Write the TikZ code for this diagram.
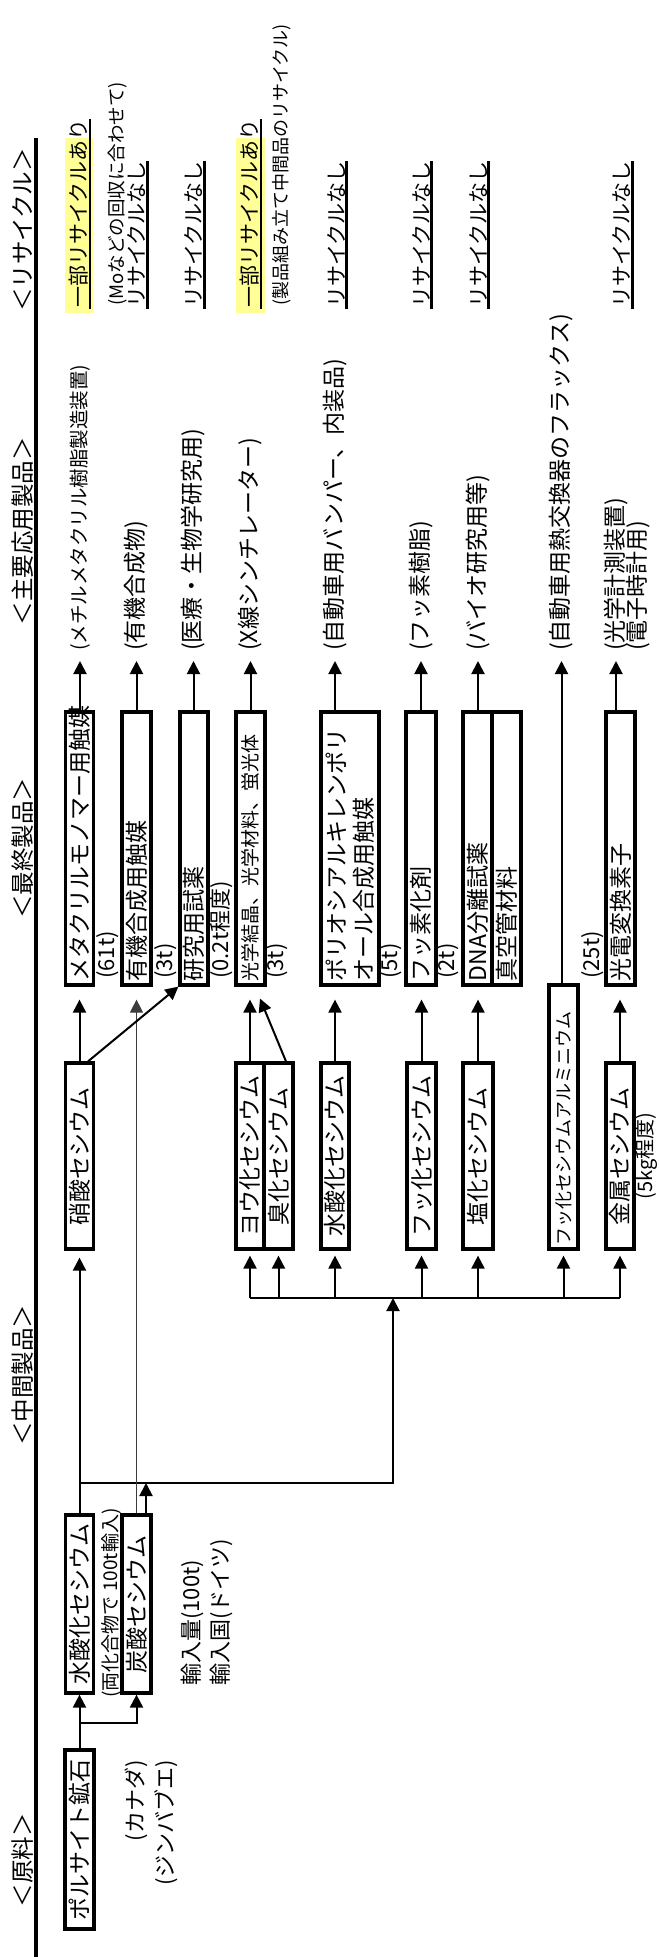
\documentclass[tikz,border=0pt]{standalone}
\usepackage{fontspec}
\setmainfont{Noto Sans CJK JP}
\usepackage{tikz}
\usetikzlibrary{arrows.meta,positioning,calc}
\definecolor{markyellow}{RGB}{255,255,150}
\definecolor{thingray}{RGB}{60,60,60}
\tikzset{
  cbox/.style  ={rectangle, draw, line width=3.2pt, rotate=90, inner sep=0pt,
                 minimum width=186pt, minimum height=28pt, font=\fontsize{23}{25}\selectfont},
  fbox/.style  ={rectangle, draw, line width=3.2pt, rotate=90, inner xsep=4pt, inner ysep=0pt,
                 text width=265pt, align=left, minimum height=28pt, font=\fontsize{23}{27}\selectfont},
  hdr/.style   ={rotate=90, inner sep=0pt, font=\fontsize{23.5}{25}\selectfont},
  lbl/.style   ={rotate=90, inner sep=1pt, font=\fontsize{22}{24}\selectfont},
  app/.style   ={rotate=90, anchor=west, inner sep=1pt, font=\fontsize{23}{25}\selectfont},
  rec/.style   ={rotate=90, anchor=west, inner sep=1pt, font=\fontsize{21}{23}\selectfont},
  note/.style  ={rotate=90, anchor=west, inner sep=1pt, font=\fontsize{18.5}{20}\selectfont},
  flow/.style  ={-{Triangle[length=13pt,width=13pt]}, line width=2pt},
  link/.style  ={line width=2pt},
  uline/.style ={line width=2.6pt}
}
\begin{document}
\begin{tikzpicture}[x=1pt, y=1pt]
\useasboundingbox (0,0) rectangle (659,-1957);
% Column headers
\foreach \y/\name in {1860/原料, 1375/中間製品, 848/最終製品, 531/主要応用製品, 230/リサイクル}{
  \node[hdr] (hd-\y) at (23,-\y) {＜\name＞};
}
\draw[line width=3.2pt] (36,-138) -- (36,-1957);

% Raw material
\node[cbox, minimum width=179pt, minimum height=29pt] (pollucite) at (79.5,-1839.5) {ポルサイト鉱石};
\node[lbl, anchor=east] (canada) at (136,-1759) {(カナダ)};
\node[lbl, anchor=east] (zimbabwe) at (166,-1759) {(ジンバブエ)};

% Imported intermediates
\node[cbox, minimum width=178pt] (hydA) at (79.5,-1604) {水酸化セシウム};
\node[cbox, minimum width=178pt, minimum height=29pt] (carb) at (136.5,-1604) {炭酸セシウム};
\node[lbl, font=\fontsize{19}{21}\selectfont] (bothnote) at (111,-1603) {(両化合物で 100t輸入)};
\node[lbl, anchor=west] (impqty) at (192,-1687) {輸入量(100t)};
\node[lbl, anchor=west] (impfrom) at (221,-1687) {輸入国(ドイツ)};

% Cs compounds
\node[cbox] (nitrate) at (79.5,-1156) {硝酸セシウム};
\node[cbox] (iodide) at (250,-1156) {ヨウ化セシウム};
\node[cbox, minimum height=29pt] (bromide) at (278.5,-1156) {臭化セシウム};
\node[cbox] (hydB) at (335,-1156) {水酸化セシウム};
\node[cbox, minimum height=29pt] (fluoride) at (421.5,-1156) {フッ化セシウム};
\node[cbox, minimum height=30pt] (chloride) at (478,-1156) {塩化セシウム};
\node[fbox, text width=256pt, minimum height=29pt, font=\fontsize{18}{20}\selectfont] (csalf) at (563.5,-1117) {フッ化セシウムアルミニウム};
\node[cbox] (metal) at (620,-1156) {金属セシウム};
\node[lbl, inner sep=0pt, font=\fontsize{20}{22}\selectfont] (metalqty) at (647,-1156) {(5kg程度)};

% Final products
\node[fbox] (mma) at (79.5,-848.5) {メタクリルモノマー用触媒};
\node[fbox, minimum height=29pt] (orgcat) at (136.5,-848.5) {有機合成用触媒};
\node[fbox] (reagent) at (194,-848.5) {研究用試薬};
\node[fbox, minimum height=29pt, font=\fontsize{19}{21}\selectfont] (optic) at (250.5,-848.5) {光学結晶、光学材料、蛍光体};
\node[fbox, minimum height=58pt] (polyol) at (350,-848.5) {ポリオシアルキレンポリ\\オール合成用触媒};
\node[fbox, minimum height=30pt] (fluorinate) at (421,-848.5) {フッ素化剤};
\node[fbox, minimum height=29pt] (dna) at (477.5,-848.5) {DNA分離試薬};
\node[fbox, minimum height=29pt] (vacuum) at (506.5,-848.5) {真空管材料};
\node[fbox, minimum height=29pt] (photo) at (620.5,-848.5) {光電変換素子};
\foreach \x/\nm/\txt in {107.5/qmma/{(61t)}, 165.5/qorg/{(3t)}, 221.5/qreag/{(0.2t程度)}, 277/qopt/{(3t)},
                        391/qpoly/{(5t)}, 447.5/qfl/{(2t)}, 592.5/qphoto/{(25t)}}{
  \node[lbl, anchor=west] (\nm) at (\x,-980) {\txt};
}

% Applications
\node[app, font=\fontsize{19.5}{21}\selectfont] (appmma) at (80,-652) {(メチルメタクリル樹脂製造装置)};
\node[app] (apporg) at (136.5,-652) {(有機合成物)};
\node[app] (appreag) at (193.5,-652) {(医療・生物学研究用)};
\node[app] (appopt) at (250.5,-652) {(X線シンチレーター)};
\node[app] (apppoly) at (335,-652) {(自動車用バンパー、内装品)};
\node[app] (appfl) at (421,-652) {(フッ素樹脂)};
\node[app] (appdna) at (478,-652) {(バイオ研究用等)};
\node[app] (appcsalf) at (561.5,-652) {(自動車用熱交換器のフラックス)};
\node[app] (appphoto) at (616,-652) {(光学計測装置)};
\node[app] (appclock) at (638,-652) {(電子時計用)};

% Recycling
\fill[markyellow] (65,-313) rectangle (93,-138);
\fill[markyellow] (236,-313) rectangle (265,-138);
\foreach \x/\nm/\txt in {79/recmma/一部リサイクルあり, 137/recorg/リサイクルなし, 194/recreag/リサイクルなし,
                        250/recopt/一部リサイクルあり, 336.5/recpoly/リサイクルなし, 421.5/recfl/リサイクルなし,
                        478.5/recdna/リサイクルなし, 622/recphoto/リサイクルなし}{
  \node[rec] (\nm) at (\x,-309) {\txt};
  \draw[uline] (\nm.south west) -- (\nm.south east);
}
\node[note] (notemma) at (117.5,-307) {(Moなどの回収に合わせて)};
\node[note, font=\fontsize{18}{20}\selectfont] (noteopt) at (281.5,-307) {(製品組み立て中間品のリサイクル)};

% Flows: raw -> imported compounds
\coordinate (splitA) at (79.5,-1723);
\draw[flow] (pollucite) -- (hydA);
\draw[flow] (splitA) -| (carb);
% imported compounds -> Cs compounds
\coordinate (splitB) at (79.5,-1483);
\coordinate (busIn) at (393,-1298);
\coordinate (carbOut) at ($(carb.east)+(9.5,0)$);
\draw[flow, shorten >=7pt] (hydA) -- (nitrate);
\draw[flow] (splitB) -| (busIn);
\draw[flow] (carbOut) -- (carbOut |- splitB);
\draw[flow, line width=1.2pt, draw=thingray, shorten >=13pt] (carb) -- (orgcat);
\coordinate (busL) at (250,-1298);
\coordinate (busR) at (620,-1298);
\draw[link] (busL) -- (busR);
\foreach \nm in {iodide, bromide, hydB, fluoride, chloride, csalf, metal}{
  \draw[flow, shorten >=5pt] (\nm |- busL) -- (\nm);
}
% Cs compounds -> final products
\draw[flow, shorten >=13pt] (nitrate) -- (mma);
\draw[flow] ($(nitrate.east)+(8.5,0)$) -- (reagent.north west);
\draw[flow, shorten >=13pt] (iodide) -- (iodide |- optic.west);
\draw[flow] ($(bromide.east)+(7.5,0)$) -- ($(optic.west)+(9.5,-12)$);
\draw[flow, shorten >=13pt] (hydB) -- (hydB |- polyol.west);
\draw[flow, shorten >=13pt] (fluoride) -- (fluoride |- fluorinate.west);
\draw[flow, shorten >=13pt] (chloride) -- (chloride |- dna.west);
\draw[flow, shorten >=13pt] (metal) -- (metal |- photo.west);
% final products -> applications
\foreach \src/\dst in {mma/appmma, orgcat/apporg, reagent/appreag, optic/appopt, polyol/apppoly,
                       fluorinate/appfl, dna/appdna, csalf/appcsalf, photo/appphoto}{
  \draw[flow, shorten >=9pt] (\dst.west |- \src.east) -- (\dst.west);
}
\end{tikzpicture}
\end{document}
